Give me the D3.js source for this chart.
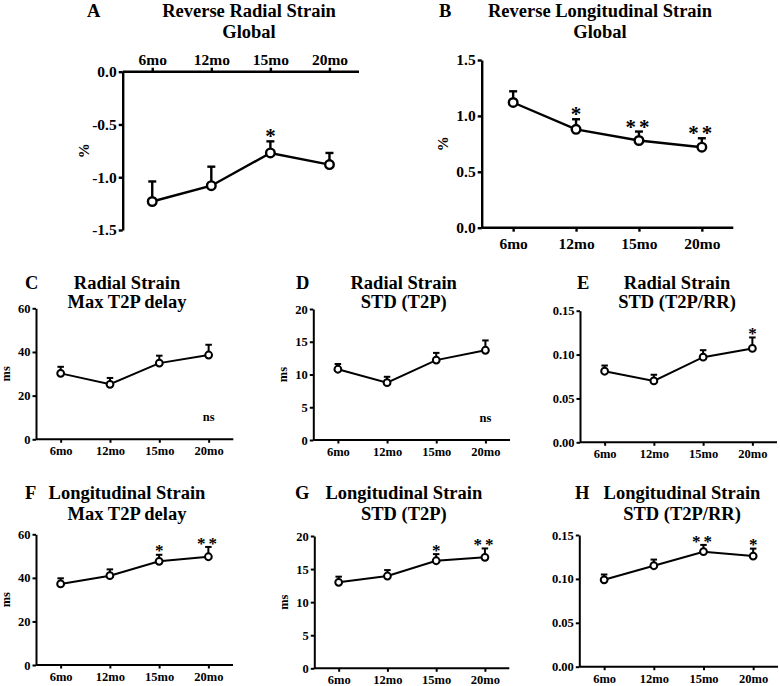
<!DOCTYPE html>
<html><head><meta charset="utf-8">
<script src="https://cdn.jsdelivr.net/npm/d3@7"></script>
<style>
body{margin:0;background:#fff}
text{font-family:"Liberation Serif","Times New Roman",serif;font-weight:bold;fill:#000}
</style>
</head><body><svg id="chart" width="780" height="686"></svg>
<script>
// ---------- data ----------
const months = ["6mo", "12mo", "15mo", "20mo"];

const aMean = [-1.23, -1.08, -0.77, -0.88];
const aErr  = [0.19, 0.18, 0.11, 0.11];
const aSig  = ["", "", "*", ""];
const aTicks = [0, -0.5, -1.0, -1.5];

const bMean = [1.12, 0.88, 0.78, 0.72];
const bErr  = [0.10, 0.09, 0.08, 0.08];
const bSig  = ["", "*", "**", "**"];
const bTicks = [0, 0.5, 1.0, 1.5];

const cMean = [30.2, 25.2, 34.9, 38.6];
const cErr  = [3.0, 2.9, 3.4, 4.7];
const cSig  = ["", "", "", ""];
const cTicks = [0, 20, 40, 60];

const dMean = [10.8, 8.75, 12.2, 13.7];
const dErr  = [0.8, 0.9, 1.1, 1.5];
const dSig  = ["", "", "", ""];
const dTicks = [0, 5, 10, 15, 20];

const eMean = [0.081, 0.070, 0.097, 0.107];
const eErr  = [0.0065, 0.007, 0.008, 0.0125];
const eSig  = ["", "", "", "*"];
const eTicks = [0, 0.05, 0.10, 0.15];

const fMean = [37.2, 41.0, 47.6, 49.7];
const fErr  = [2.6, 2.9, 3.0, 4.5];
const fSig  = ["", "", "*", "**"];
const fTicks = [0, 20, 40, 60];

const gMean = [13.0, 13.95, 16.26, 16.77];
const gErr  = [0.85, 0.9, 1.0, 1.35];
const gSig  = ["", "", "*", "**"];
const gTicks = [0, 5, 10, 15, 20];

const hMean = [0.099, 0.115, 0.131, 0.126];
const hErr  = [0.006, 0.007, 0.0077, 0.0085];
const hSig  = ["", "", "**", "*"];
const hTicks = [0, 0.05, 0.10, 0.15];

// ---------- layout ----------
const big = {tick: 15.5, lw: 2.4, r: 4.3, cap: 8, tickLen: 4, star: 21, ylab: 15, ylabOff: 37, xPad: 6, titleSize: 18.5};
const small = {tick: 12.5, lw: 2, r: 3.4, cap: 6.5, tickLen: 3.5, star: 17, ylab: 12.5, ylabOff: 29, xPad: 3.8, titleSize: 18.5};

const panels = [
  {letter: "A", title: ["Reverse Radial Strain", "Global"], mean: aMean, err: aErr, sig: aSig, ticks: aTicks, dec: 1, dom: [0, -1.5],
   x0: 122.7, x1: 359, yT: 71.7, yB: 230, top: true, ylabel: "%", tx: 249, ty: [16.5, 38], lx: 87, st: big},
  {letter: "B", title: ["Reverse Longitudinal Strain", "Global"], mean: bMean, err: bErr, sig: bSig, ticks: bTicks, dec: 1, dom: [1.5, 0],
   x0: 481.7, x1: 733.3, yT: 60, yB: 227.7, top: false, ylabel: "%", tx: 600, ty: [16.5, 38], lx: 439, st: big},
  {letter: "C", title: ["Radial Strain", "Max T2P delay"], mean: cMean, err: cErr, sig: cSig, ticks: cTicks, dec: 0, dom: [60, 0],
   x0: 36, x1: 233.3, yT: 308.3, yB: 439.3, top: false, ylabel: "ms", note: "ns", tx: 127, ty: [288.5, 308], lx: 25, st: small},
  {letter: "D", title: ["Radial Strain", "STD (T2P)"], mean: dMean, err: dErr, sig: dSig, ticks: dTicks, dec: 0, dom: [20, 0],
   x0: 313.3, x1: 510, yT: 309, yB: 440, top: false, ylabel: "ms", note: "ns", tx: 403.7, ty: [288.5, 308], lx: 296, st: small},
  {letter: "E", title: ["Radial Strain", "STD (T2P/RR)"], mean: eMean, err: eErr, sig: eSig, ticks: eTicks, dec: 2, dom: [0.15, 0],
   x0: 580, x1: 777, yT: 310.7, yB: 442.3, top: false, ylabel: "", tx: 677, ty: [288.5, 308], lx: 577, st: small},
  {letter: "F", title: ["Longitudinal Strain", "Max T2P delay"], mean: fMean, err: fErr, sig: fSig, ticks: fTicks, dec: 0, dom: [60, 0],
   x0: 36, x1: 233, yT: 534.3, yB: 665, top: false, ylabel: "ms", tx: 127, ty: [498.5, 520], lx: 25, st: small},
  {letter: "G", title: ["Longitudinal Strain", "STD (T2P)"], mean: gMean, err: gErr, sig: gSig, ticks: gTicks, dec: 0, dom: [20, 0],
   x0: 314.3, x1: 509.3, yT: 536, yB: 668.3, top: false, ylabel: "ms", tx: 403.8, ty: [498.5, 520], lx: 295, st: small},
  {letter: "H", title: ["Longitudinal Strain", "STD (T2P/RR)"], mean: hMean, err: hErr, sig: hSig, ticks: hTicks, dec: 2, dom: [0.15, 0],
   x0: 579.3, x1: 778, yT: 535, yB: 666.7, top: false, ylabel: "", tx: 682, ty: [498.5, 520], lx: 575, st: small}
];

const svg = d3.select("#chart");
svg.append("rect").attr("width", 780).attr("height", 686).attr("fill", "#fff");

panels.forEach(p => {
  const s = p.st;
  const g = svg.append("g");
  const x = d3.scalePoint().domain(months).range([p.x0, p.x1]).padding(0.5);
  const y = d3.scaleLinear().domain(p.dom).range([p.yT, p.yB]);
  const rows = months.map((m, i) => ({m, v: p.mean[i], e: p.err[i], s: p.sig[i]}));

  // title
  g.append("text").attr("x", p.lx).attr("y", p.ty[0]).attr("font-size", s.titleSize).text(p.letter);
  p.title.forEach((t, i) => g.append("text").attr("x", p.tx).attr("y", p.ty[i])
    .attr("text-anchor", "middle").attr("font-size", s.titleSize).text(t));

  // axes
  const xAxisY = y(0);
  const xa = (p.top ? d3.axisTop(x) : d3.axisBottom(x)).tickSizeInner(s.tickLen).tickSizeOuter(0).tickPadding(p.top ? 3 : s.xPad);
  const gx = g.append("g").attr("transform", `translate(0,${xAxisY})`).call(xa);
  const ya = d3.axisLeft(y).tickValues(p.ticks).tickFormat(d => d.toFixed(p.dec))
    .tickSizeInner(s.tickLen).tickSizeOuter(0).tickPadding(2);
  const gy = g.append("g").attr("transform", `translate(${p.x0},0)`).call(ya);
  [gx, gy].forEach(a => {
    a.selectAll("path.domain").attr("stroke", "#000").attr("stroke-width", s.lw);
    a.selectAll("line").attr("stroke", "#000").attr("stroke-width", s.lw);
    a.selectAll("text").attr("font-size", s.tick).attr("font-family", null).attr("font-weight", "bold").attr("fill", "#000");
  });
  gx.select("path.domain").attr("d", `M${p.x0},0H${p.x1}`);

  // y label
  if (p.ylabel) {
    g.append("text").attr("transform", `translate(${p.x0 - s.ylabOff},${(p.yT + p.yB) / 2}) rotate(-90)`)
      .attr("text-anchor", "middle").attr("dominant-baseline", "middle").attr("font-size", s.ylab).text(p.ylabel);
  }

  // error bars
  rows.forEach(r => {
    const xt = x(r.m), y1 = y(r.v), y2 = y(r.v + r.e);
    g.append("line").attr("x1", xt).attr("x2", xt).attr("y1", y1).attr("y2", y2).attr("stroke", "#000").attr("stroke-width", s.lw);
    g.append("line").attr("x1", xt - s.cap / 2).attr("x2", xt + s.cap / 2).attr("y1", y2).attr("y2", y2).attr("stroke", "#000").attr("stroke-width", s.lw);
  });

  // line
  g.append("path").datum(rows).attr("fill", "none").attr("stroke", "#000").attr("stroke-width", s.lw)
    .attr("d", d3.line().x(d => x(d.m)).y(d => y(d.v)));

  // markers
  g.selectAll("circle.pt").data(rows).join("circle").attr("class", "pt")
    .attr("cx", d => x(d.m)).attr("cy", d => y(d.v)).attr("r", s.r)
    .attr("fill", "#fff").attr("stroke", "#000").attr("stroke-width", s.lw);

  // significance stars
  rows.filter(r => r.s).forEach(r => {
    g.append("text").attr("x", x(r.m)).attr("y", y(r.v + r.e) + s.star * 0.1)
      .attr("text-anchor", "middle").attr("font-size", s.star).attr("font-weight", "normal")
      .attr("letter-spacing", r.s.length > 1 ? 3 : 0).text(r.s);
  });

  if (p.note) {
    g.append("text").attr("x", x(months[3])).attr("y", p.yB - 18).attr("text-anchor", "middle")
      .attr("font-size", 12.5).text(p.note);
  }
});
</script>
</body></html>
